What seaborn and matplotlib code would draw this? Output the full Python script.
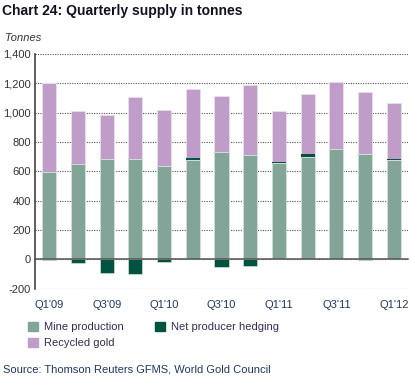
import numpy as np
import pandas as pd
import matplotlib
matplotlib.use("Agg")
import matplotlib.pyplot as plt
import seaborn as sns

# quarterly supply, tonnes
quarters = ["Q1'09", "Q2'09", "Q3'09", "Q4'09", "Q1'10", "Q2'10", "Q3'10",
            "Q4'10", "Q1'11", "Q2'11", "Q3'11", "Q4'11", "Q1'12"]
mine = [593, 647, 681, 682, 636, 674, 729, 708, 656, 701, 749, 720, 677]
hedging = [-5, -23, -90, -100, -16, 18, -52, -43, 10, 18, 0, -7, 7]
recycled = [607, 367, 306, 425, 380, 469, 387, 482, 348, 406, 457, 421, 384]
tick_labels = ["Q1'09", "Q3'09", "Q1'10", "Q3'10", "Q1'11", "Q3'11", "Q1'12"]

c_mine = "#82a597"
c_hedge = "#00533f"
c_recyc = "#c09dc8"

df = pd.DataFrame({"quarter": quarters, "mine": mine,
                   "hedging": hedging, "recycled": recycled})
df["hedge_pos"] = df["hedging"].clip(lower=0)
df["hedge_neg"] = df["hedging"].clip(upper=0)
df["mine_hedge"] = df["mine"] + df["hedge_pos"]
df["total"] = df["mine_hedge"] + df["recycled"]

sns.set_style("white")
plt.rcParams["font.family"] = ["Liberation Sans", "DejaVu Sans"]

fig = plt.figure(figsize=(4.11, 3.77), dpi=100)
ax = fig.add_axes([0.085, 0.234, 0.908, 0.623])

w = 0.49
kw = dict(x="quarter", width=w, ax=ax, zorder=2)
# stacked by overlaying from the top down
sns.barplot(data=df, y="total", color=c_recyc, saturation=1,
            edgecolor="#e9ddec", linewidth=0.7, **kw)
sns.barplot(data=df, y="mine_hedge", color=c_hedge, saturation=1,
            linewidth=0, **kw)
sns.barplot(data=df, y="mine", color=c_mine, saturation=1,
            edgecolor="#d2e0da", linewidth=0.7, **kw)
sns.barplot(data=df, y="hedge_neg", color=c_hedge, saturation=1,
            edgecolor="#cfe0d8", linewidth=0.5, **kw)

ax.set_xlim(-0.5, len(quarters) - 0.5)
ax.set_ylim(-200, 1400)
ax.set_yticks(range(-200, 1401, 200))
ax.set_yticklabels([f"{v:,}" for v in range(-200, 1401, 200)])
ax.yaxis.grid(True, linestyle=(0, (1, 1.2)), color="#555555", linewidth=0.8,
              zorder=0)
ax.set_axisbelow(True)

# category axis sits on the zero line, labels pushed below -200
ax.spines["bottom"].set_position(("data", 0))
ax.spines["bottom"].set_color("#555555")
ax.spines["bottom"].set_linewidth(1.1)
ax.spines["bottom"].set_zorder(3)
ax.spines["top"].set_visible(False)
ax.spines["right"].set_visible(False)
ax.spines["left"].set_color("#333333")
ax.spines["left"].set_linewidth(1.1)

ax.set_xticks(range(0, len(quarters), 2))
ax.set_xticklabels(tick_labels)
ax.set_xticks(np.arange(0.5, len(quarters), 1), minor=True)
ax.tick_params(axis="x", which="major", length=0, pad=29, labelsize=8,
               labelcolor="#1f3864")
ax.tick_params(axis="x", which="minor", length=9, direction="inout",
               width=1, color="#555555")
ax.tick_params(axis="y", length=0, pad=3, labelsize=8, labelcolor="#333333")
ax.set_xlabel("")
ax.set_ylabel("")

fig.text(0.005, 0.972, "Chart 24: Quarterly supply in tonnes", fontsize=10,
         fontweight="bold", color="#111122", va="center", ha="left")
fig.text(0.012, 0.9, "Tonnes", fontsize=8, style="italic", color="#333333",
         va="center", ha="left")

# legend (column-wise fill: mine + recycled in first column)
handles = [plt.Rectangle((0, 0), 1, 1, color=c) for c in (c_mine, c_recyc, c_hedge)]
fig.legend(handles, ["Mine production", "Recycled gold", "Net producer hedging"],
           loc="upper left", bbox_to_anchor=(0.068, 0.147), ncol=2,
           frameon=False, fontsize=8, handlelength=0.9, handleheight=0.9,
           handletextpad=0.5, columnspacing=2.9, labelspacing=0.5,
           labelcolor="#3a2a5a", borderaxespad=0, borderpad=0)

fig.text(0.008, 0.02, "Source: Thomson Reuters GFMS, World Gold Council",
         fontsize=8, color="#1f3864", va="center", ha="left")

fig.savefig("out.png", dpi=100)
